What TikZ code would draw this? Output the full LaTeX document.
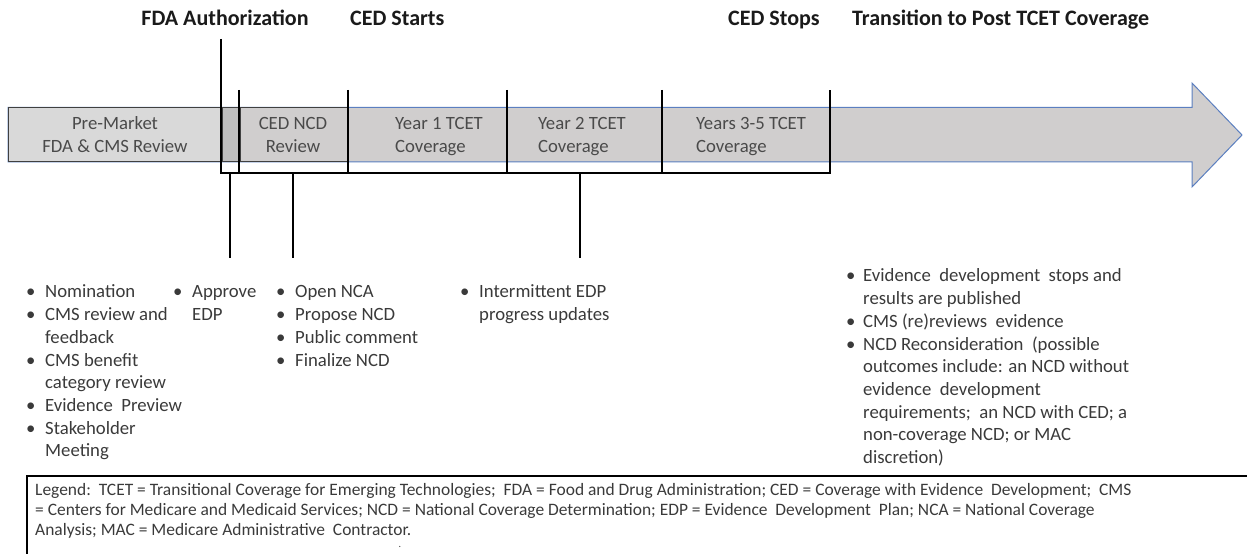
\documentclass[tikz,border=0pt]{standalone}
\usepackage{fontspec}
\setmainfont{Carlito}
\definecolor{headc}{HTML}{1A1A1A}
\definecolor{bodyc}{HTML}{3A3A3A}
\definecolor{labc}{HTML}{4A4A4A}
\definecolor{premk}{HTML}{D9D9D9}
\definecolor{overlap}{HTML}{BFBFBF}
\definecolor{arrowfill}{HTML}{D0CECE}
\definecolor{arrowline}{HTML}{5B7FC0}
\definecolor{boxline}{HTML}{404040}
\newcommand{\fla}{\rule{0pt}{16bp}}
\newcommand{\flb}{\rule{0pt}{14bp}}
\newcommand{\bul}[1]{\makebox[#1][l]{\textbullet}}
\begin{document}
\begin{tikzpicture}[x=1bp,y=-1bp,
  head/.style={font=\fontsize{22.1}{26}\selectfont\bfseries, text=headc, inner sep=0pt, anchor=base west},
  boxlab/.style={font=\fontsize{18.8}{22.8}\selectfont, text=labc, inner sep=0pt, anchor=north},
  bullets/.style={font=\fontsize{18.8}{22.8}\selectfont, text=bodyc, inner sep=0pt, align=left, anchor=north west},
  legendtxt/.style={font=\fontsize{17.5}{20}\selectfont, text=bodyc, inner sep=0pt, align=left, anchor=north west},
  tick/.style={line width=2bp, draw=black},
  outlined/.style={draw=boxline, line width=1bp}]
\useasboundingbox (0,0) rectangle (1247,554);

% timeline arrow
\filldraw[fill=arrowfill, draw=arrowline, line width=1bp]
  (8,107.5) -- (1192,107.5) -- (1192,83) -- (1242,135) -- (1192,187) -- (1192,162) -- (8,162) -- cycle;
\filldraw[fill=premk, outlined] (8,107.5) rectangle (222,162);
\filldraw[fill=overlap, outlined] (222,107.5) rectangle (240,162);
\filldraw[fill=arrowfill, outlined] (240,107.5) rectangle (348,162);

% box labels
\node[boxlab, align=center] (pre) at (115,113.5) {\fla Pre-Market\\FDA \& CMS Review};
\node[boxlab, align=center] (ncd) at (293,113.5) {\fla CED NCD\\Review};
\node[boxlab, align=left, anchor=north west] (y1) at (395,113.5) {\fla Year 1 TCET\\Coverage};
\node[boxlab, align=left, anchor=north west] (y2) at (538,113.5) {\fla Year 2 TCET\\Coverage};
\node[boxlab, align=left, anchor=north west] (y3) at (696,113.5) {\fla Years 3-5 TCET\\Coverage};

% headings
\node[head, anchor=base] (fda) at (225,26) {FDA Authorization};
\node[head] (cedstart) at (350,26) {CED Starts};
\node[head] (cedstop) at (728,26) {CED Stops};
\node[head] (trans) at (852,26) {Transition to Post TCET Coverage};

% tick coordinates
\coordinate (fdaT) at (221,39);
\coordinate (fdaB) at (221,173);
\coordinate (aT) at (239,90);  \coordinate (aB) at (239,173);
\coordinate (bT) at (348,90);  \coordinate (bB) at (348,173);
\coordinate (cT) at (507,90);  \coordinate (cB) at (507,173);
\coordinate (dT) at (662,90);  \coordinate (dB) at (662,173);
\coordinate (eT) at (830,90);  \coordinate (eB) at (830,173);
\coordinate (p1T) at (230,173); \coordinate (p1B) at (230,258);
\coordinate (p2T) at (293,173); \coordinate (p2B) at (293,258);
\coordinate (p3T) at (580,173); \coordinate (p3B) at (580,258);

\draw[tick] (fdaT) -- (fdaB) -- (eB) -- (eT);
\draw[tick] (aT) -- (aB);
\draw[tick] (bT) -- (bB);
\draw[tick] (cT) -- (cB);
\draw[tick] (dT) -- (dB);
\draw[tick] (p1T) -- (p1B);
\draw[tick] (p2T) -- (p2B);
\draw[tick] (p3T) -- (p3B);

% bullet lists
\node[bullets] (col1) at (26,281.7) {\fla\bul{19bp}Nomination\\
\bul{19bp}CMS review and\\
\hspace*{19bp}feedback\\
\bul{19bp}CMS benefit\\
\hspace*{19bp}category review\\
\bul{19bp}Evidence\ \ Preview\\
\bul{19bp}Stakeholder\\
\hspace*{19bp}Meeting};
\node[bullets] (col2) at (173,281.7) {\fla\bul{19bp}Approve\\
\hspace*{19bp}EDP};
\node[bullets] (col3) at (276,281.7) {\fla\bul{19bp}Open NCA\\
\bul{19bp}Propose NCD\\
\bul{19bp}Public comment\\
\bul{19bp}Finalize NCD};
\node[bullets] (col4) at (460,281.7) {\fla\bul{19bp}Intermittent EDP\\
\hspace*{19bp}progress updates};
\node[bullets] (col5) at (846,265.7) {\fla\bul{17bp}Evidence\ \ development\ \ stops and\\
\hspace*{17bp}results are published\\
\bul{17bp}CMS (re)reviews\ \ evidence\\
\bul{17bp}NCD Reconsideration\ \ (possible\\
\hspace*{17bp}outcomes include: an NCD without\\
\hspace*{17bp}evidence\ \ development\\
\hspace*{17bp}requirements;\ \ an NCD with CED; a\\
\hspace*{17bp}non-coverage NCD; or MAC\\
\hspace*{17bp}discretion)};

% legend
\draw[line width=2bp, draw=black] (27,476) rectangle (1262,580);
\node[legendtxt] (legend) at (35,481) {\flb Legend:\ \ TCET = Transitional Coverage for Emerging Technologies;\ \ FDA = Food and Drug Administration; CED = Coverage with Evidence\ \ Development;\ \ CMS\\
= Centers for Medicare and Medicaid Services; NCD = National Coverage Determination; EDP = Evidence\ \ Development\ \ Plan; NCA = National Coverage\\
Analysis; MAC = Medicare Administrative\ \ Contractor.};
\node[legendtxt, anchor=base, font=\fontsize{10}{12}\selectfont] (dot) at (400,547) {.};
\end{tikzpicture}
\end{document}
